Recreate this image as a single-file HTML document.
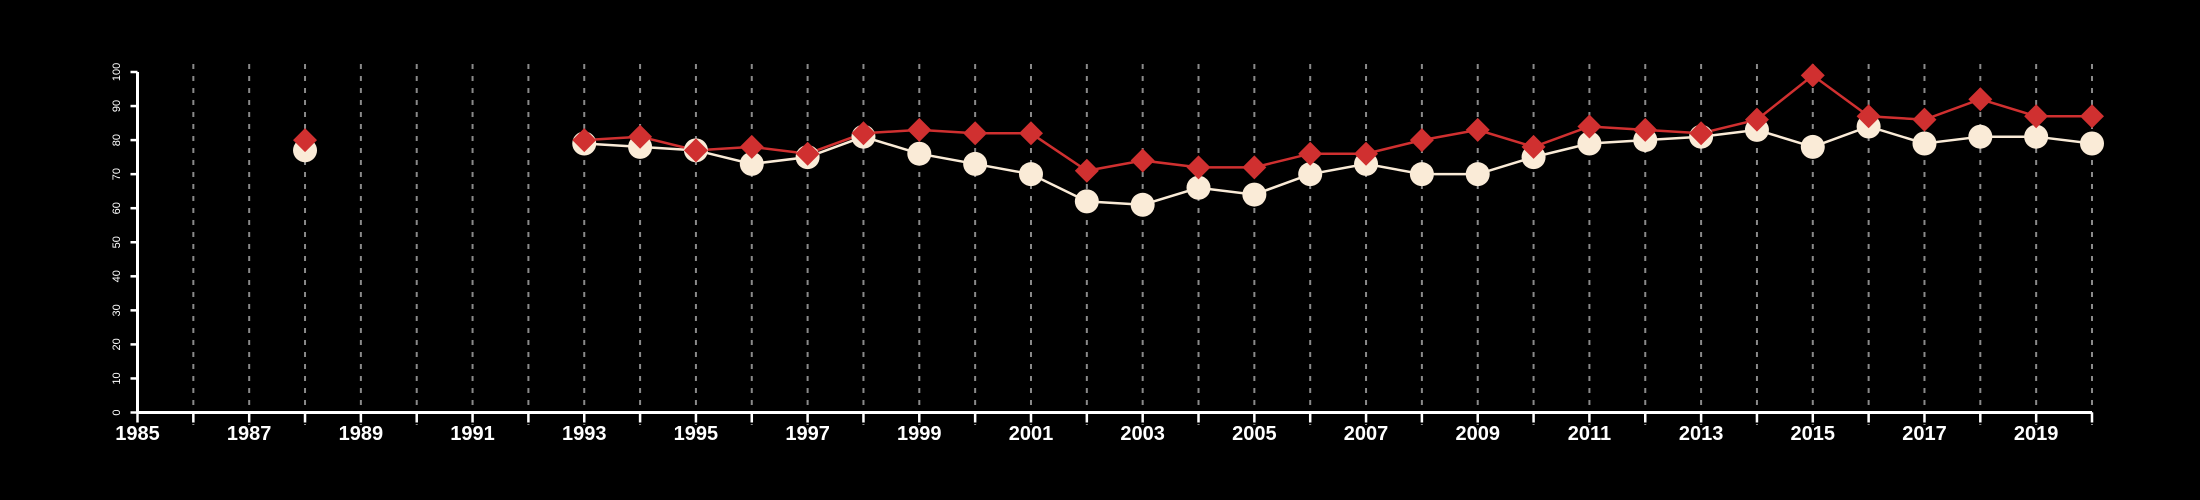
<!DOCTYPE html>
<html><head><meta charset="utf-8"><style>
html,body{margin:0;padding:0;background:#000;}
svg{display:block;font-family:"Liberation Sans",sans-serif;}
</style></head><body>
<svg id="chart" width="2200" height="500" viewBox="0 0 2200 500" xmlns="http://www.w3.org/2000/svg">
<rect width="2200" height="500" fill="#000"/>
<g id="grid"></g>
<g id="axes"></g>
<g id="series"></g>
</svg>
<script>
const years = [1988,1993,1994,1995,1996,1997,1998,1999,2000,2001,2002,2003,2004,2005,2006,2007,2008,2009,2010,2011,2012,2013,2014,2015,2016,2017,2018,2019,2020];
const whiteValues = [77,79,78,77,73,75,81,76,73,70,62,61,66,64,70,73,70,70,75,79,80,81,83,78,84,79,81,81,79];
const redValues = [80,80,81,77,78,76,82,83,82,82,71,74,72,72,76,76,80,83,78,84,83,82,86,99,87,86,92,87,87];
const yTicks = [0,10,20,30,40,50,60,70,80,90,100];
const xTickLabels = [1985,1987,1989,1991,1993,1995,1997,1999,2001,2003,2005,2007,2009,2011,2013,2015,2017,2019];
const xMin = 1985, xMax = 2020;

const NS = "http://www.w3.org/2000/svg";
const X0 = 137.5, X1 = 2092, Y0 = 412.5, Y1 = 72;
function xs(v){ return X0 + (v - xMin) / (xMax - xMin) * (X1 - X0); }
function ys(v){ return Y0 - v / 100 * (Y0 - Y1); }
function mk(tag, attrs, parent){ const e = document.createElementNS(NS, tag); for (const k in attrs) e.setAttribute(k, attrs[k]); parent.appendChild(e); return e; }

const grid = document.getElementById('grid');
const axes = document.getElementById('axes');
const series = document.getElementById('series');

for (let y = xMin + 1; y <= xMax; y++) {
  const l = mk('line', {x1: xs(y), x2: xs(y), y1: 64, y2: 425, stroke: '#8a8a8a', 'stroke-width': 2, 'stroke-dasharray': '5,7'}, grid);
  
  
}
// axes
const xa = mk('line', {x1: X0, x2: X1, y1: Y0, y2: Y0, stroke: '#fff', 'stroke-width': 3}, axes);


const ya = mk('line', {x1: X0, x2: X0, y1: Y0, y2: Y1, stroke: '#fff', 'stroke-width': 3}, axes);


for (let y = xMin; y <= xMax; y++) {
  const t = mk('line', {x1: xs(y), x2: xs(y), y1: Y0, y2: Y0 + 10, stroke: '#fff', 'stroke-width': 2.5}, axes);
  
  
}
xTickLabels.forEach(v => {
  const t = mk('text', {x: xs(v), y: 440, fill: '#fff', 'font-size': 20, 'font-weight': 'bold', 'text-anchor': 'middle'}, axes);
  t.textContent = v;
  
  
});
yTicks.forEach(v => {
  const t = mk('line', {x1: X0 - 7, x2: X0, y1: ys(v), y2: ys(v), stroke: '#fff', 'stroke-width': 2.5}, axes);
  
  
  const lb = mk('text', {x: 0, y: 0, fill: '#fff', 'font-size': 11, 'text-anchor': 'middle', transform: 'translate(120,' + ys(v) + ') rotate(-90)'}, axes);
  lb.textContent = v;
  
  
});

function linePath(vals){
  let d = '';
  for (let i = 0; i < years.length; i++) {
    const cont = i > 0 && years[i] - years[i-1] === 1;
    d += (cont ? 'L' : 'M') + xs(years[i]) + ',' + ys(vals[i]);
  }
  return d;
}
const wl = mk('path', {d: linePath(whiteValues), fill: 'none', stroke: '#faebd7', 'stroke-width': 2.5}, series);


const rl = mk('path', {d: linePath(redValues), fill: 'none', stroke: '#d03030', 'stroke-width': 2.5}, series);


years.forEach((y, i) => {
  const c = mk('circle', {cx: xs(y), cy: ys(whiteValues[i]), r: 12, fill: '#faebd7'}, series);
  
  
});
years.forEach((y, i) => {
  const cx = xs(y), cy = ys(redValues[i]), s = 12;
  const p = mk('polygon', {points: `${cx},${cy-s} ${cx+s},${cy} ${cx},${cy+s} ${cx-s},${cy}`, fill: '#d03030'}, series);
  
  
});
</script>
</body></html>
